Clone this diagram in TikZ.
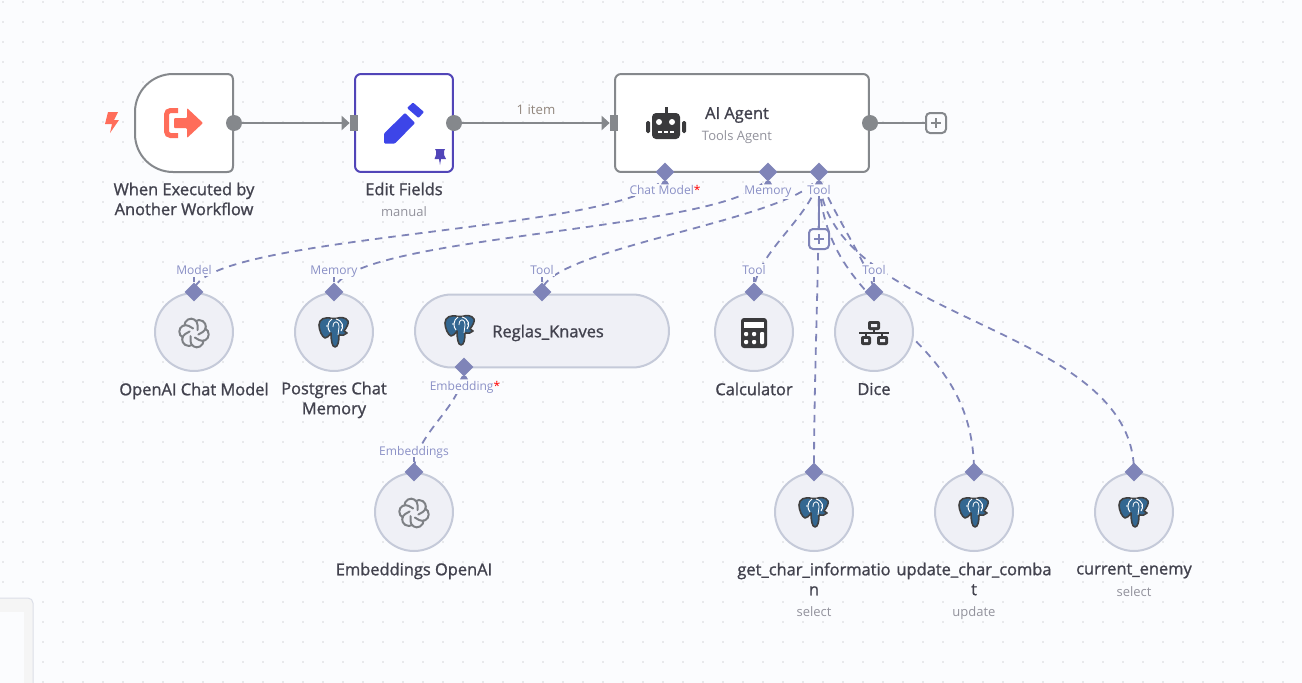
\documentclass[tikz,border=0pt]{standalone}
\usepackage{fontspec}
\setmainfont{Open Sans}
\newfontfamily\titlefont[FakeBold=1.2]{Open Sans}
\usetikzlibrary{arrows.meta,backgrounds,shapes.geometric}

\definecolor{canvas}{HTML}{FBFCFE}
\definecolor{griddot}{HTML}{A9ACB4}
\definecolor{wire}{HTML}{85888C}
\definecolor{subwire}{HTML}{7F84B8}
\definecolor{subtext}{HTML}{8A90C6}
\definecolor{titletext}{HTML}{42424E}
\definecolor{greytext}{HTML}{92929C}
\definecolor{iconblack}{HTML}{3A3A3C}
\definecolor{pinned}{HTML}{5145B8}
\definecolor{pencil}{HTML}{3D45E8}
\definecolor{trigger}{HTML}{FF6D5A}
\definecolor{subfill}{HTML}{EFF0F6}
\definecolor{subline}{HTML}{C5CAD9}
\definecolor{pgblue}{HTML}{336791}

\tikzset{
  mainbox/.style={draw=wire,fill=white,line width=0.04cm,rounded corners=0.12cm,inner sep=0pt},
  subcircle/.style={circle,draw=subline,fill=subfill,line width=0.04cm,minimum size=1.56cm,inner sep=0pt},
  outdot/.style={circle,fill=wire,minimum size=0.32cm,inner sep=0pt},
  indot/.style={rectangle,fill=wire,minimum width=0.16cm,minimum height=0.32cm,inner sep=0pt},
  subport/.style={diamond,fill=subwire,minimum size=0.38cm,inner sep=0pt},
  plusbox/.style={rectangle,draw=#1,fill=canvas,line width=0.04cm,rounded corners=0.08cm,minimum size=0.4cm,inner sep=0pt},
  mainwire/.style={draw=wire,line width=0.04cm},
  subdash/.style={draw=subwire,line width=0.036cm,dash pattern=on 0.15cm off 0.12cm},
  substub/.style={draw=subwire,line width=0.04cm},
  nodetitle/.style={font=\titlefont\fontsize{9.35}{11.34}\selectfont,text=titletext,align=center,inner sep=0pt},
  nodesub/.style={font=\fontsize{7.4}{9}\selectfont,text=greytext,inner sep=0pt},
  porttag/.style={font=\fontsize{6.85}{8}\selectfont,text=subtext,fill=canvas,inner sep=0.5pt},
}

\newcommand{\elephant}[2]{
  \begin{scope}[shift={(#1,#2)}]
    \filldraw[fill=pgblue,draw=black!75,line width=0.032cm,line join=round] (-2,-13.5) .. controls (-9,-15.5) and (-15,-13) .. (-15,-7) .. controls (-15,-2) and (-12,5) .. (-9,6) .. controls (-7,6) and (-5,4) .. (-3,1) .. controls (-3,8) and (-2,15) .. (1,15) .. controls (4,15) and (5,9) .. (5,3) .. controls (8,4) and (11,3) .. (13,1) -- (10,-1) .. controls (13,-5) and (15,-9) .. (14,-11) .. controls (12,-15) and (6,-15) .. (2,-13.5) -- cycle;
    \draw[white,line width=0.02cm] (-2,-13) .. controls (-7,-10) and (-7,-3) .. (-4,0);
    \draw[white,line width=0.016cm] (-1,-5) .. controls (-1,-12) and (5,-12) .. (5,-5) .. controls (5,-2) and (4,0) .. (4,3);
    \draw[white,line width=0.02cm] (2,-13) .. controls (9,-11) and (10,-5) .. (7,-1);
    \fill[white] (-7,-6) circle (0.8) (8,-6) circle (0.8);
  \end{scope}
}

\newcommand{\openailogo}[2]{
  \begin{scope}[shift={(#1,#2)}]
    \foreach \a in {0,60,...,300}{
      \draw[wire!95!black,line width=0.04cm,line cap=round,rotate=\a] (3.5,-3) -- (3.5,-8) .. controls (3.5,-12.5) and (-1.5,-16) .. (-6,-13.5) .. controls (-8.5,-12) and (-9.5,-10) .. (-9.5,-7.5);
    }
  \end{scope}
}

\begin{document}
\begin{tikzpicture}[x=0.02cm,y=-0.02cm]
\useasboundingbox (0,0) rectangle (1302,683);

% main row
\draw[mainbox,sharp corners] (173,74) -- (227,74) .. controls (231,74) and (233,76) .. (233,80) -- (233,166) .. controls (233,170) and (231,172) .. (227,172) -- (173,172) .. controls (152,172) and (135,155) .. (135,134) -- (135,112) .. controls (135,91) and (152,74) .. (173,74) -- cycle;
\node[mainbox,draw=pinned,minimum width=1.96cm,minimum height=1.96cm] (editfields) at (404,123) {};
\node[mainbox,minimum width=5.08cm,minimum height=1.96cm] (agent) at (742,123) {};

\node[outdot] (triggerout) at (234,123) {};
\node[indot] (editin) at (354,123) {};
\node[outdot] (editout) at (454,123) {};
\node[indot] (agentin) at (614,123) {};
\node[outdot] (agentout) at (870,123) {};
\node[plusbox=wire] (agentplus) at (936,123) {};

\node[nodetitle] (triggertitle) at (184,199) {When Executed by\\Another Workflow};
\node[nodetitle] (edittitle) at (404,189) {Edit Fields};
\node[nodesub] (editsub) at (404,212) {manual};
\node[nodetitle] (agenttitle) at (737,115) {AI Agent};
\node[nodesub] (agentsub) at (737,137) {Tools Agent};
\node[font=\fontsize{7.5}{9}\selectfont,text=wire!80!brown,inner sep=0pt] (itemcount) at (536,110) {1 item};

% sub nodes
\node[subcircle] (openaichat) at (194,332) {};
\node[subcircle] (pgmemory) at (334,332) {};
\node[rectangle,draw=subline,fill=subfill,line width=0.04cm,rounded corners=0.73cm,minimum width=5.08cm,minimum height=1.46cm,inner sep=0pt] (reglas) at (542,331) {};
\node[subcircle] (calculator) at (754,332) {};
\node[subcircle] (dice) at (874,332) {};
\node[subcircle] (embedopenai) at (414,512) {};
\node[subcircle] (getchar) at (814,512) {};
\node[subcircle] (updatechar) at (974,512) {};
\node[subcircle] (enemy) at (1134,512) {};

\node[nodetitle] (openaititle) at (194,391) {OpenAI Chat Model};
\node[nodetitle] (memorytitle) at (334,400) {Postgres Chat\\Memory};
\node[nodetitle,anchor=west] (reglastitle) at (492,333) {Reglas\_Knaves};
\node[nodetitle] (calctitle) at (754,389) {Calculator};
\node[nodetitle] (dicetitle) at (874,389) {Dice};
\node[nodetitle] (embedtitle) at (414,571) {Embeddings OpenAI};
\node[nodetitle] (getchartitle) at (814,579) {get\_char\_informatio\\n};
\node[nodesub] (getcharsub) at (814,612) {select};
\node[nodetitle] (updatetitle) at (974,579) {update\_char\_comba\\t};
\node[nodesub] (updatesub) at (974,613) {update};
\node[nodetitle] (enemytitle) at (1134,571) {current\_enemy};
\node[nodesub] (enemysub) at (1134,592) {select};

% ports
\node[porttag] (chattag) at (665,190) {Chat Model\textcolor{red}{*}};
\node[porttag] (memorytag) at (768,192) {Memory};
\node[porttag] (tooltag) at (819,190) {Tool};
\node[porttag] (modeltag) at (194,270) {Model};
\node[porttag] (pgtag) at (334,272) {Memory};
\node[porttag] (reglastag) at (542,270) {Tool};
\node[porttag] (calctag) at (754,270) {Tool};
\node[porttag] (dicetag) at (874,270) {Tool};
\node[porttag] (embeddingtag) at (465,387) {Embedding\textcolor{red}{*}};
\node[porttag] (embeddingstag) at (414,452) {Embeddings};

\node[subport] (chatport) at (665,172) {};
\node[subport] (memoryport) at (768,172) {};
\node[subport] (toolport) at (819,172) {};
\node[subport] (modelport) at (194,292) {};
\node[subport] (pgport) at (334,292) {};
\node[subport] (reglasport) at (542,292) {};
\node[subport] (calcport) at (754,292) {};
\node[subport] (diceport) at (874,292) {};
\node[subport] (embeddingport) at (464,367) {};
\node[subport] (embeddingsport) at (414,472) {};
\node[subport] (getcharport) at (814,472) {};
\node[subport] (updateport) at (974,472) {};
\node[subport] (enemyport) at (1134,472) {};
\node[plusbox=subwire] (toolplus) at (819,239) {};

\draw[wire,line width=0.036cm] (agentplus.center) +(-5,0) -- +(5,0) (agentplus.center) +(0,-5) -- +(0,5);
\draw[subwire,line width=0.036cm] (toolplus.center) +(-5,0) -- +(5,0) (toolplus.center) +(0,-5) -- +(0,5);

\foreach \i in {modelport,pgport,reglasport,calcport,diceport,embeddingsport}
    \draw[substub] (\i.north) -- ++(0,-5);
\foreach \i in {chatport,memoryport,toolport,embeddingport}
    \fill[subwire] (\i.south) ++(-2,-1) -- ++(4,0) -- ++(2,3.5) -- ++(-8,0) -- cycle;

% wires and canvas
\begin{scope}[on background layer]
\fill[canvas] (0,0) rectangle (1302,683);
\foreach \x in {3,23,...,1283}
    \foreach \y in {2,22,...,682}
        \fill[griddot] (\x,\y) circle (0.6);
\filldraw[fill=black!4,draw=subline!60,line width=0.02cm,rounded corners=0.1cm] (-5,690) -- (-5,598) -- (33,598) -- (33,690) -- cycle;
\fill[canvas] (0,612) rectangle (24,683);

\draw[mainwire,-{Triangle[length=0.16cm,width=0.28cm]}] (triggerout) -- (editin.west);
\draw[mainwire,-{Triangle[length=0.16cm,width=0.28cm]}] (editout) -- (agentin.west);
\draw[mainwire] (agentout) -- (agentplus);
\draw[substub] (toolport) -- (toolplus);

\draw[subdash] (chatport.center) .. controls +(0,60) and +(0,-60) .. (modelport.center);
\draw[subdash] (memoryport.center) .. controls +(0,60) and +(0,-60) .. (pgport.center);
\draw[subdash] (toolport.center) .. controls +(0,45) and +(0,-45) .. (reglasport.center);
\draw[subdash] (toolport.center) .. controls +(0,40) and +(0,-40) .. (calcport.center);
\draw[subdash] (toolport.center) .. controls +(0,20) and +(0,-20) .. (diceport.center);
\draw[subdash] (toolport.center) .. controls +(0,100) and +(0,-100) .. (getcharport.center);
\draw[subdash] (toolport.center) .. controls +(0,150) and +(0,-150) .. (updateport.center);
\draw[subdash] (toolport.center) .. controls +(0,150) and +(0,-150) .. (enemyport.center);
\draw[subdash] (embeddingport.center) .. controls +(0,40) and +(0,-40) .. (embeddingsport.center);
\end{scope}

% icons
\fill[trigger] (108,112) -- (118,112) -- (114,120) -- (119,120) -- (110,133) -- (112,124) -- (105,124) -- cycle;
\draw[trigger,line width=0.1cm,rounded corners=0.08cm] (178,110.5) -- (166.5,110.5) -- (166.5,135.5) -- (178,135.5);
\fill[trigger,rounded corners=0.02cm] (174,118) -- (187,118) -- (187,108) -- (203,123) -- (187,138) -- (187,128) -- (174,128) -- cycle;

\fill[pencil,rounded corners=0.02cm] (405,113) -- (415,123) -- (395,143.5) -- (384,143.5) -- (384,133.5) -- cycle;
\fill[pencil,rounded corners=0.02cm] (407,108) -- (413,102.5) -- (424,112) -- (418.5,118) -- cycle;
\fill[pinned] (435,149) -- (445,149) -- (444,151) -- (444,155) -- (446,159) -- (441,159) -- (440,165) -- (439,159) -- (434.5,159) -- (436,155) -- (436,151) -- cycle;

\fill[iconblack,rounded corners=0.08cm] (652,113) rectangle (680,139);
\draw[iconblack,line width=0.06cm] (666,107) -- (666,114);
\fill[iconblack,rounded corners=0.03cm] (646,121) rectangle (650,133) (682,121) rectangle (686,133);
\fill[white] (659,122) circle (3) (672,122) circle (3);
\foreach \x in {658,664,670}
    \fill[white] (\x,131) rectangle +(4,2);

\fill[iconblack,rounded corners=0.06cm] (741,318) rectangle (767,348);
\fill[white] (744,322) rectangle (764,328);
\foreach \x/\y in {746/334,754/334,746/342,754/342}
    \fill[white,rounded corners=0.02cm] (\x-2,\y-2) rectangle +(4,4);
\fill[white,rounded corners=0.02cm] (760,332) rectangle (764,344);

\fill[iconblack,rounded corners=0.04cm] (868,321) rectangle (880,330);
\fill[iconblack,rounded corners=0.04cm] (861,336) rectangle (871,345) (877,336) rectangle (888,345);
\fill[subfill] (871,324) rectangle (877,327) (864,339) rectangle (868,342) (880,339) rectangle (885,342);
\draw[iconblack,line width=0.05cm] (859,333) -- (889,333) (874,330) -- (874,333) (866,333) -- (866,337) (882,333) -- (882,337);

\openailogo{194}{333}
\openailogo{414}{513}
\elephant{334}{332}
\elephant{460}{330}
\elephant{814}{512}
\elephant{974}{512}
\elephant{1134}{512}

\end{tikzpicture}
\end{document}
